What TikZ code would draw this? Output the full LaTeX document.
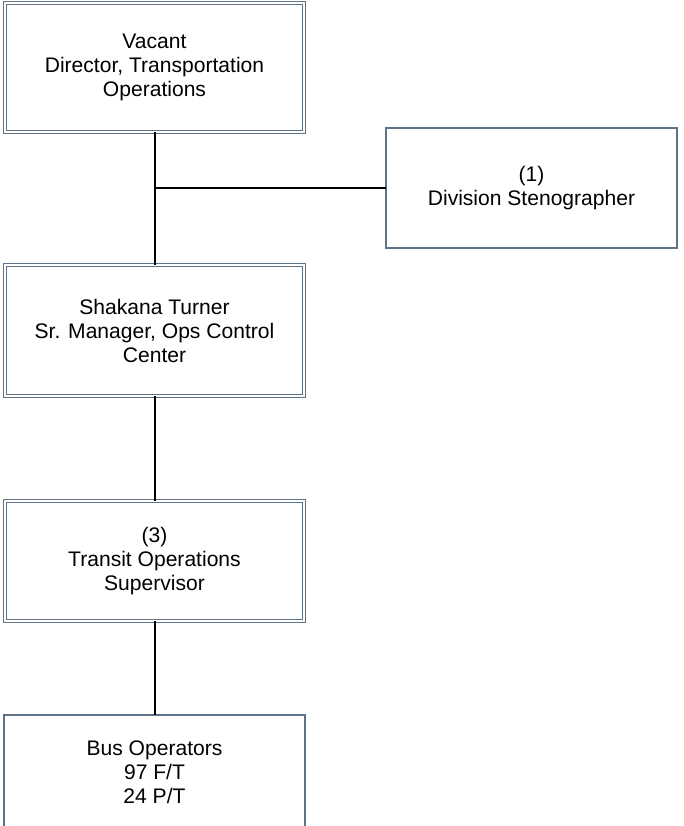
\documentclass[tikz,border=0pt]{standalone}
\usepackage{fontspec}
\setmainfont{Liberation Sans}
\usepackage{tikz}
\usetikzlibrary{positioning}
\definecolor{boxslate}{RGB}{95,115,135}
\newlength\px
\setlength\px{0.75pt}

\begin{document}
\begin{tikzpicture}[x=0.75pt,y=-0.75pt,
    orgbox/.style={draw=boxslate,line width=1.3\px,fill=white,inner sep=0pt,outer sep=0pt,
      align=center,font=\fontsize{15.8}{18}\selectfont},
    dblbox/.style={orgbox,double=white,double distance=2\px},
    link/.style={line width=2\px,black}]
  \useasboundingbox (0,0) rectangle (683,826);
  \node[dblbox,minimum width=299\px,minimum height=129\px] (dir) at (154.5,67.5)
    {Vacant\\Director, Transportation\\Operations};
  \node[orgbox,minimum width=291\px,minimum height=120\px] (steno) at (531.5,188)
    {(1)\\Division Stenographer};
  \node[dblbox,minimum width=299\px,minimum height=131\px] (mgr) at (154.5,330.5)
    {Shakana Turner\\Sr. Manager, Ops Control\\Center};
  \node[dblbox,minimum width=299\px,minimum height=120\px] (sup) at (154.5,561)
    {(3)\\Transit Operations\\Supervisor};
  \node[orgbox,minimum width=301\px,minimum height=114\px] (bus) at (154.5,772)
    {Bus Operators\\97 F/T\\24 P/T};
  \draw[link] (dir.south) -- (mgr.north);
  \draw[link] (dir.south |- steno.west) -- (steno.west);
  \draw[link] (mgr.south) -- (sup.north);
  \draw[link] (sup.south) -- (bus.north);
\end{tikzpicture}
\end{document}
